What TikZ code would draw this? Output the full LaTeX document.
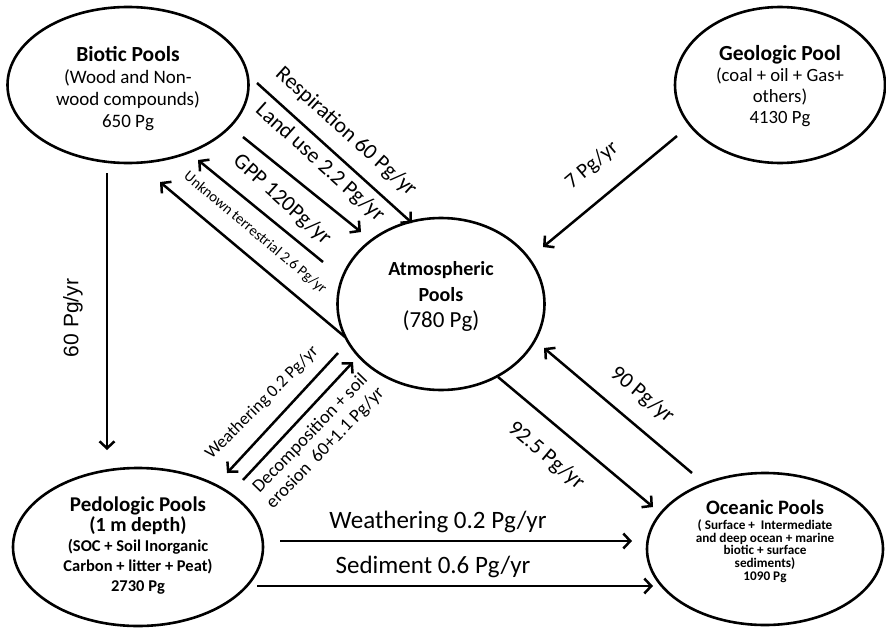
\documentclass[tikz,border=0pt]{standalone}
\usepackage{fontspec}
\setmainfont{Carlito}
\newfontfamily\arialfont{Liberation Sans}
\usetikzlibrary{shapes.geometric,arrows.meta}
\begin{document}
\begin{tikzpicture}[x=1pt,y=-1pt,
  pool/.style={draw, ellipse, line width=2.6pt, inner sep=0pt},
  flow/.style={line width=2.5pt, -{Straight Barb[length=7pt,width=15pt]}},
  ptext/.style={align=center, inner sep=0pt},
  lbl/.style={inner sep=0pt, align=center}]
\useasboundingbox (0,0) rectangle (886,629);
% pools
\node[pool, minimum width=241pt, minimum height=156pt] (bio) at (128,85) {};
\node[pool, minimum width=210pt, minimum height=156pt] (geo) at (780,85) {};
\node[pool, minimum width=207pt, minimum height=172pt] (atm) at (441,304) {};
\node[pool, minimum width=250pt, minimum height=158pt] (ped) at (138,547) {};
\node[pool, minimum width=236pt, minimum height=152pt] (oce) at (765,549) {};
% pool texts
\node[ptext, font=\fontsize{19}{22}\selectfont] (biot) at (128,89)
  {{\fontsize{21.5}{22}\selectfont\bfseries Biotic Pools}\\(Wood and Non-\\wood compounds)\\650 Pg};
\node[ptext, font=\fontsize{18.7}{21}\selectfont] (geot) at (780,86)
  {{\fontsize{21.5}{21}\selectfont\bfseries Geologic Pool}\\(coal + oil + Gas+\\others)\\4130 Pg};
\node[ptext, font=\fontsize{20}{26}\selectfont] (atmt) at (441,296)
  {\bfseries Atmospheric\\\bfseries Pools\\{\fontsize{23}{27}\selectfont (780 Pg)}};
\node[ptext, font=\bfseries\fontsize{16.5}{20}\selectfont] (pedt) at (138,546)
  {{\fontsize{21}{27}\selectfont Pedologic Pools}\\{\fontsize{20}{25}\selectfont (1 m depth)}\\(SOC + Soil Inorganic\\Carbon + litter + Peat)\\2730 Pg};
\node[ptext, font=\bfseries\fontsize{13.2}{12.6}\selectfont] (ocet) at (765,541)
  {{\fontsize{20.5}{20}\selectfont Oceanic Pools}\\[3pt]( Surface +\ \ Intermediate\\and deep ocean + marine\\biotic + surface\\sediments)\\1090 Pg};
% connector end points
\coordinate (r1) at (257,83);  \coordinate (r2) at (412,223);
\coordinate (l1) at (243,137); \coordinate (l2) at (361,232);
\coordinate (g1) at (323,262); \coordinate (g2) at (198,160);
\coordinate (u1) at (345,337); \coordinate (u2) at (160,182);
\coordinate (v1) at (107,173); \coordinate (v2) at (107,450);
\coordinate (k1) at (677,136); \coordinate (k2) at (543,247);
\coordinate (w1) at (338,353); \coordinate (w2) at (227,473);
\coordinate (d1) at (243,480); \coordinate (d2) at (353,362);
\coordinate (o1) at (498,377); \coordinate (o2) at (653,507);
\coordinate (a1) at (692,473); \coordinate (a2) at (544,348);
\coordinate (h1) at (280,541); \coordinate (h2) at (632,541);
\coordinate (s1) at (257,586); \coordinate (s2) at (653,586);
% connectors
\draw[flow] (r1) -- (r2);
\draw[flow] (l1) -- (l2);
\draw[flow] (g1) -- (g2);
\draw[flow] (u1) -- (u2);
\draw[flow] (v1) -- (v2);
\draw[flow] (k1) -- (k2);
\draw[flow] (w1) -- (w2);
\draw[flow] (d1) -- (d2);
\draw[flow] (o1) -- (o2);
\draw[flow] (a1) -- (a2);
\draw[flow] (h1) -- (h2);
\draw[flow] (s1) -- (s2);
% labels
\node[lbl, rotate=-42, font=\fontsize{22}{22}\selectfont] (lresp) at (346,132) {Respiration 60 Pg/yr};
\node[lbl, rotate=-42, font=\fontsize{22}{22}\selectfont] (lland) at (320,163) {Land use 2.2 Pg/yr};
\node[lbl, rotate=-42, font=\fontsize{22}{22}\selectfont] (lgpp) at (282,200) {GPP 120Pg/yr};
\node[lbl, rotate=-40, font=\fontsize{15}{15}\selectfont] (lunk) at (255,233) {Unknown terrestrial 2.6 Pg/yr};
\node[lbl, rotate=90, font=\arialfont\fontsize{21}{21}\selectfont] (lvert) at (73,318) {60 Pg/yr};
\node[lbl, rotate=40, font=\fontsize{21}{21}\selectfont] (lgeo) at (592,165) {7 Pg/yr};
\node[lbl, rotate=45, font=\fontsize{17.5}{17.5}\selectfont] (lwd) at (262,403) {Weathering 0.2 Pg/yr};
\node[lbl, rotate=46, font=\fontsize{18.5}{21}\selectfont] (ldec) at (318,441) {Decomposition + soil\\erosion\ \ 60+1.1 Pg/yr};
\node[lbl, rotate=-40, font=\fontsize{22}{22}\selectfont] (lo) at (546,456) {92.5 Pg/yr};
\node[lbl, rotate=-40, font=\fontsize{22}{22}\selectfont] (la) at (642,395) {90 Pg/yr};
\node[lbl, font=\fontsize{25}{25}\selectfont] (lh) at (438,522) {Weathering 0.2 Pg/yr};
\node[lbl, font=\fontsize{25}{25}\selectfont] (ls) at (433,567) {Sediment 0.6 Pg/yr};
\end{tikzpicture}
\end{document}
